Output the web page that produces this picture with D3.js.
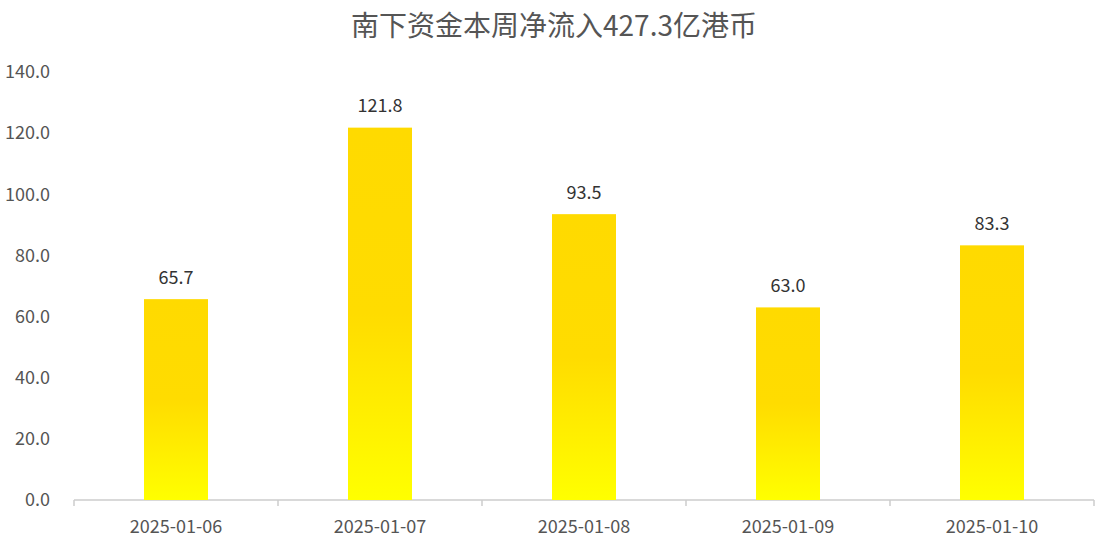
<!DOCTYPE html>
<html><head><meta charset="utf-8">
<script src="https://cdn.jsdelivr.net/npm/d3@7"></script>
<style>body{margin:0;background:#fff;} svg{display:block;font-family:"Noto Sans CJK SC","Noto Sans",sans-serif;}</style>
</head><body>
<svg id="c" width="1120" height="541"></svg>
<script>
const title = "南下资金本周净流入427.3亿港币";
const categories = ["2025-01-06","2025-01-07","2025-01-08","2025-01-09","2025-01-10"];
const values = [65.7, 121.8, 93.5, 63.0, 83.3];
const yTicks = [0,20,40,60,80,100,120,140];

const svg = d3.select("#c");
const m = {l:74, r:26, t:72, b:41};
const W = 1120, H = 541;
const x = d3.scaleBand().domain(categories).range([m.l, W-m.r]).paddingInner(0).paddingOuter(0);
const y = d3.scaleLinear().domain([0,140]).range([H-m.b, m.t]);

const defs = svg.append("defs");
const g = defs.append("linearGradient").attr("id","bg").attr("x1",0).attr("y1",0).attr("x2",0).attr("y2",1);
g.append("stop").attr("offset","0%").attr("stop-color","#FFDA00");
g.append("stop").attr("offset","50%").attr("stop-color","#FFDC00");
g.append("stop").attr("offset","100%").attr("stop-color","#FFFF00");

svg.append("text").attr("x",554).attr("y",26).attr("dy","0.35em").attr("text-anchor","middle")
  .attr("font-size",28).attr("fill","#555").text(title);

// y labels
svg.append("g").selectAll("text").data(yTicks).join("text")
  .attr("x",50).attr("y",d=>y(d)).attr("dy","0.35em").attr("text-anchor","end")
  .attr("font-size",18).attr("fill","#555").text(d=>d.toFixed(1));

// x axis
const xa = svg.append("g").attr("transform",`translate(0,${y(0)})`);
xa.append("line").attr("x1",m.l).attr("x2",W-m.r).attr("stroke","#ccc").attr("stroke-width",1.5);
const tickPos = categories.map(c=>x(c)).concat([x(categories[categories.length-1])+x.bandwidth()]);
xa.selectAll("line.t").data(tickPos).join("line").attr("class","t")
  .attr("x1",d=>d).attr("x2",d=>d).attr("y1",0).attr("y2",6).attr("stroke","#ccc").attr("stroke-width",1.5);
xa.selectAll("text").data(categories).join("text")
  .attr("x",d=>x(d)+x.bandwidth()/2).attr("y",26.5).attr("dy","0.35em").attr("text-anchor","middle")
  .attr("font-size",18).attr("fill","#555").text(d=>d);

const bw = 64;
svg.append("g").selectAll("rect").data(values).join("rect")
  .attr("x",(d,i)=>x(categories[i])+x.bandwidth()/2-bw/2)
  .attr("width",bw)
  .attr("y",d=>y(d)).attr("height",d=>y(0)-y(d))
  .attr("fill","url(#bg)");

svg.append("g").selectAll("text").data(values).join("text")
  .attr("x",(d,i)=>x(categories[i])+x.bandwidth()/2)
  .attr("y",d=>y(d)-21.5).attr("dy","0.35em").attr("text-anchor","middle")
  .attr("font-size",18).attr("fill","#333").text(d=>d.toFixed(1));
</script>
</body></html>
